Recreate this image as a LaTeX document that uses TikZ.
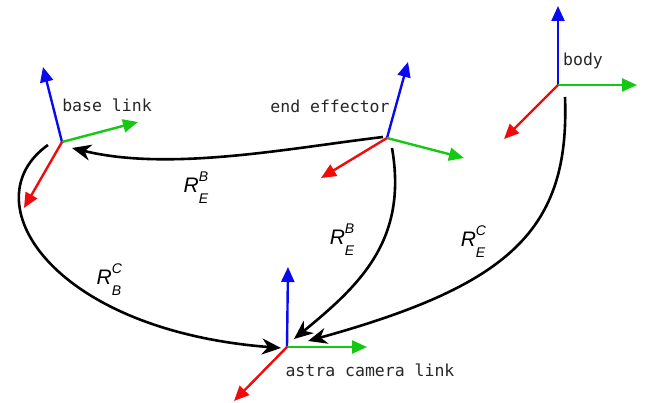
\documentclass[tikz,border=0pt]{standalone}
\usepackage{fontspec}
\setmonofont{DejaVu Sans Mono}
\newfontfamily\labfont{Liberation Sans}
\usetikzlibrary{arrows.meta}
\newcommand\Rlab[2]{{\labfont\fontsize{21}{21}\selectfont\itshape R\rlap{\raisebox{0.5em}{\fontsize{14}{14}\selectfont #2}}\raisebox{-0.55em}{\fontsize{14}{14}\selectfont #1}}}
\definecolor{fblue}{RGB}{10,10,240}
\definecolor{fgreen}{RGB}{20,200,20}
\definecolor{fred}{RGB}{240,10,10}
\begin{document}
\begin{tikzpicture}[x=1pt,y=-1pt,
  axis/.style={line width=2.4pt,-{Triangle[length=15pt,width=13pt]}},
  rel/.style={line width=2.6pt,-{Stealth[length=19pt,width=16pt,inset=6pt]}},
  ftext/.style={font=\ttfamily\fontsize{16.5}{16.5}\selectfont,text=black!85,inner sep=0pt},
  rtext/.style={inner sep=0pt}]
\useasboundingbox (0,0) rectangle (654,403);
% frame origins
\coordinate (B) at (62,142);
\coordinate (E) at (387,138);
\coordinate (Y) at (558,85);
\coordinate (A) at (287,347);
% base link axes
\coordinate (Bz) at (43,67);
\coordinate (By) at (138,122);
\coordinate (Bx) at (24,208);
% end effector axes
\coordinate (Ez) at (408,62);
\coordinate (Ey) at (464,158);
\coordinate (Ex) at (321,178);
% body axes
\coordinate (Yz) at (558,6);
\coordinate (Yy) at (637,85);
\coordinate (Yx) at (504,139);
% astra axes
\coordinate (Az) at (288,267);
\coordinate (Ay) at (367,347);
\coordinate (Ax) at (234,401);
\foreach \o in {B,E,Y,A}{
  \draw[axis,fblue] (\o) -- (\o z);
  \draw[axis,fgreen] (\o) -- (\o y);
  \draw[axis,fred] (\o) -- (\o x);
}
\node[ftext] (lb) at (107,105) {base link};
\node[ftext] (le) at (330,106) {end effector};
\node[ftext] (ly) at (583,61) {body};
\node[ftext] (la) at (370,370) {astra camera link};
% relation curves
\coordinate (s1) at (383,137);
\coordinate (t1) at (72,148);
\coordinate (s2) at (48,145);
\coordinate (t2) at (281,348);
\coordinate (s3) at (392,148);
\coordinate (t3) at (294,339);
\coordinate (s4) at (565,97);
\coordinate (t4) at (308,341);
\draw[rel] (s1) .. controls (290,148) and (170,172) .. (t1);
\draw[rel] (s2) .. controls (-30,200) and (50,330) .. (t2);
\draw[rel] (s3) .. controls (408,240) and (360,285) .. (t3);
\draw[rel] (s4) .. controls (570,230) and (510,285) .. (t4);
\node[rtext] (r1) at (196,188) {\Rlab{E}{B}};
\node[rtext] (r2) at (342,240) {\Rlab{E}{B}};
\node[rtext] (r3) at (109,280) {\Rlab{B}{C}};
\node[rtext] (r4) at (473,242) {\Rlab{E}{C}};
\end{tikzpicture}
\end{document}
